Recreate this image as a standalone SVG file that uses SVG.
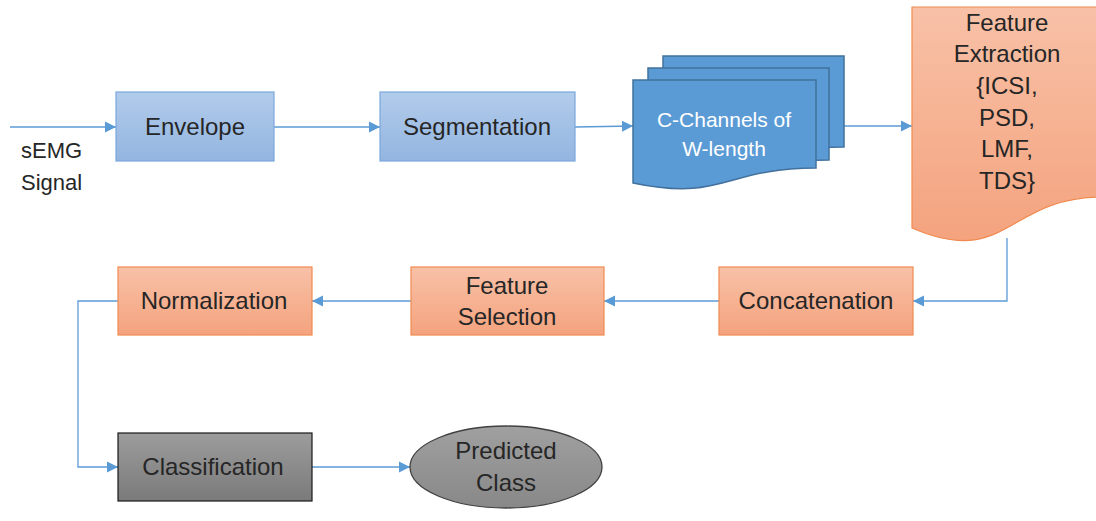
<svg xmlns="http://www.w3.org/2000/svg" width="1096" height="521" viewBox="0 0 1096 521">
<defs>
<linearGradient id="gBlue" x1="0" y1="0" x2="0" y2="1"><stop offset="0" stop-color="#b2cceb"/><stop offset="1" stop-color="#93b5e0"/></linearGradient>
<linearGradient id="gOrange" x1="0" y1="0" x2="0" y2="1"><stop offset="0" stop-color="#f8c1a7"/><stop offset="1" stop-color="#f4a37e"/></linearGradient>
<linearGradient id="gGray" x1="0" y1="0" x2="0" y2="1"><stop offset="0" stop-color="#9c9c9c"/><stop offset="1" stop-color="#7a7a7a"/></linearGradient>
<linearGradient id="gEll" x1="0" y1="0" x2="0" y2="1"><stop offset="0" stop-color="#a0a0a0"/><stop offset="1" stop-color="#888888"/></linearGradient>
<marker id="arr" markerUnits="userSpaceOnUse" markerWidth="12" markerHeight="12" viewBox="0 0 12 12" refX="11" refY="6" orient="auto">
<path d="M0,0.5 L11,6 L0,11.5 Z" fill="#5b9bd5"/>
</marker>
<style>
.t{font-family:"Liberation Sans",Arial,sans-serif;font-size:24px;fill:#262626;text-anchor:middle}
.s{font-family:"Liberation Sans",Arial,sans-serif;font-size:22px;fill:#262626}
.tw{font-family:"Liberation Sans",Arial,sans-serif;font-size:21px;fill:#ffffff;text-anchor:middle}
.blue{fill:url(#gBlue);stroke:#7aa7dc;stroke-width:1.2}
.orange{fill:url(#gOrange);stroke:#f08a50;stroke-width:1.2}
.doc{fill:#5b9bd5;stroke:#41719c;stroke-width:1.5}
.c{fill:none;stroke:#5b9bd5;stroke-width:1.3;marker-end:url(#arr)}
</style>
</defs>
<rect width="1096" height="521" fill="#ffffff"/>

<g id="connectors">
<path class="c" d="M10,127 H116"/>
<path class="c" d="M274,127 H380"/>
<path class="c" d="M575,127 L633,126"/>
<path class="c" d="M844,126 H912"/>
<path class="c" d="M1007,238 V301 H913"/>
<path class="c" d="M719,301 H604"/>
<path class="c" d="M411,301 H312"/>
<path class="c" d="M118,301 H78 V467 H118"/>
<path class="c" d="M312,467 H410"/>
</g>

<g id="semg-label">
<text class="s" x="21" y="158">sEMG</text>
<text class="s" x="21" y="190">Signal</text>
</g>

<g id="envelope">
<rect class="blue" x="116" y="92" width="158" height="69"/>
<text class="t" x="195" y="135">Envelope</text>
</g>

<g id="segmentation">
<rect class="blue" x="380" y="92" width="195" height="69"/>
<text class="t" x="477" y="135">Segmentation</text>
</g>

<g id="channels">
<path class="doc" d="M663,56 H844 V147 C753,147 753,184 663,165 Z"/>
<path class="doc" d="M648,68 H829 V160 C738,160 738,197 648,178 Z"/>
<path class="doc" d="M633,80 H816 V168 C724,168 724,202 633,183 Z"/>
<text class="tw" x="724" y="127">C-Channels of</text>
<text class="tw" x="724" y="156">W-length</text>
</g>

<g id="feature-extraction">
<path class="orange" d="M912,7 H1102 V197 C1007,197 1007,269 912,228 Z"/>
<text class="t" x="1007" y="31">Feature</text>
<text class="t" x="1007" y="62">Extraction</text>
<text class="t" x="1007" y="94">{ICSI,</text>
<text class="t" x="1007" y="126">PSD,</text>
<text class="t" x="1007" y="157">LMF,</text>
<text class="t" x="1007" y="189">TDS}</text>
</g>

<g id="concatenation">
<rect class="orange" x="719" y="267" width="194" height="68"/>
<text class="t" x="816" y="309">Concatenation</text>
</g>

<g id="feature-selection">
<rect class="orange" x="411" y="267" width="193" height="68"/>
<text class="t" x="507" y="294">Feature</text>
<text class="t" x="507" y="325">Selection</text>
</g>

<g id="normalization">
<rect class="orange" x="118" y="267" width="194" height="68"/>
<text class="t" x="214" y="309">Normalization</text>
</g>

<g id="classification">
<rect x="118" y="433" width="194" height="68" fill="url(#gGray)" stroke="#1a1a1a" stroke-width="1.2"/>
<text class="t" x="213" y="475">Classification</text>
</g>

<g id="predicted-class">
<ellipse cx="506" cy="467" rx="96" ry="41" fill="url(#gEll)" stroke="#404040" stroke-width="1.3"/>
<text class="t" x="506" y="459">Predicted</text>
<text class="t" x="506" y="491">Class</text>
</g>
</svg>
